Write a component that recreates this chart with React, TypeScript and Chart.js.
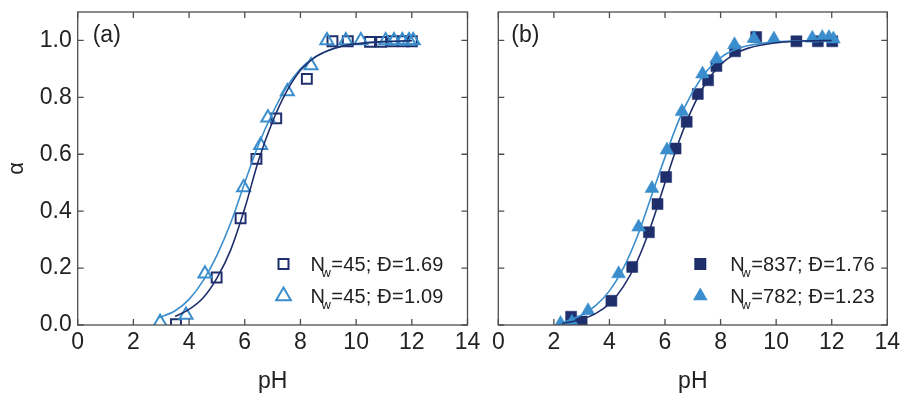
import React, { useEffect, useRef } from 'react';
import { Chart, registerables } from 'chart.js';
Chart.register(...registerables);

const DARK = '#1f2f6c';
const LIGHT = '#3b8ecd';
const AXIS = '#4d4d4d';
const TEXT = '#222222';
const FONT = '"Liberation Sans", Arial, Helvetica, sans-serif';

// ---------- Panel (a) ----------
const aSquarePH = [3.53, 4.99, 5.85, 6.42, 7.13, 8.23, 9.15, 9.7, 10.5, 10.9, 11.3, 11.7, 12.0];
const aSquareAlpha = [0.003, 0.167, 0.375, 0.584, 0.726, 0.865, 0.997, 0.997, 0.995, 0.995, 0.997, 0.997, 0.997];
const aTriPH = [2.96, 3.89, 4.57, 5.96, 6.57, 6.83, 7.53, 8.38, 8.95, 9.63, 10.17, 11.06, 11.36, 11.66, 11.9, 12.05];
const aTriAlpha = [0.01, 0.035, 0.18, 0.483, 0.632, 0.728, 0.821, 0.912, 1.0, 1.0, 1.0, 1.0, 1.0, 1.0, 1.0, 1.0];
const aFitDarkPH = [3.5, 4.0, 4.5, 5.0, 5.5, 6.0, 6.5, 7.0, 7.5, 8.0, 8.5, 9.0, 9.5, 10, 11, 12];
const aFitDarkAlpha = [0.03, 0.055, 0.095, 0.165, 0.265, 0.41, 0.58, 0.715, 0.82, 0.895, 0.94, 0.965, 0.98, 0.988, 0.996, 0.999];
const aFitLightPH = [2.9, 3.5, 4.0, 4.5, 5.0, 5.5, 6.0, 6.5, 7.0, 7.5, 8.0, 8.5, 9.0, 9.5, 10, 11, 12];
const aFitLightAlpha = [0.025, 0.05, 0.09, 0.155, 0.245, 0.36, 0.5, 0.635, 0.745, 0.835, 0.9, 0.94, 0.965, 0.98, 0.988, 0.996, 0.999];
const aLegendN = ['45', '45'];
const aLegendD = ['1.69', '1.09'];

// ---------- Panel (b) ----------
const bSquarePH = [2.62, 3.0, 4.07, 4.82, 5.42, 5.73, 6.04, 6.38, 6.78, 7.18, 7.55, 7.85, 8.52, 9.28, 10.73, 11.5, 12.02];
const bSquareAlpha = [0.029, 0.012, 0.085, 0.204, 0.326, 0.425, 0.52, 0.62, 0.714, 0.812, 0.86, 0.91, 0.962, 1.012, 0.997, 0.997, 0.997];
const bTriPH = [2.24, 2.65, 3.23, 4.33, 5.05, 5.53, 6.07, 6.61, 7.35, 7.86, 8.5, 9.2, 9.92, 11.3, 11.66, 11.9, 12.06];
const bTriAlpha = [0.005, 0.01, 0.05, 0.18, 0.344, 0.48, 0.615, 0.75, 0.882, 0.935, 0.985, 1.007, 1.005, 1.008, 1.01, 1.01, 1.005];
const bFitDarkPH = [2.3, 3.0, 3.5, 4.0, 4.5, 5.0, 5.5, 6.0, 6.5, 7.0, 7.5, 8.0, 8.5, 9.0, 10, 11, 12];
const bFitDarkAlpha = [0.005, 0.02, 0.04, 0.075, 0.135, 0.225, 0.35, 0.5, 0.645, 0.765, 0.855, 0.915, 0.952, 0.973, 0.992, 0.998, 1.0];
const bFitLightPH = [2.2, 2.5, 3.0, 3.5, 4.0, 4.5, 5.0, 5.5, 6.0, 6.5, 7.0, 7.5, 8.0, 8.5, 9.0, 10, 11, 12];
const bFitLightAlpha = [0.005, 0.015, 0.035, 0.068, 0.12, 0.2, 0.31, 0.45, 0.59, 0.72, 0.82, 0.893, 0.94, 0.967, 0.982, 0.995, 0.999, 1.0];
const bLegendN = ['837', '782'];
const bLegendD = ['1.76', '1.23'];

const xTickMin = 0;
const xTickMax = 14;
const xTickStep = 2;
const yTickMin = 0;
const yTickMax = 1.0;
const yTickStep = 0.2;

function pts(xs: number[], ys: number[]) {
  return xs.map((x, i) => ({ x, y: ys[i] }));
}

const frameTicksPlugin = {
  id: 'frameTicks',
  afterDatasetsDraw(chart: any) {
    const { ctx, chartArea: a, scales } = chart;
    const xs = scales.x;
    const ys = scales.y;
    const L = 6;
    ctx.save();
    ctx.strokeStyle = AXIS;
    ctx.lineWidth = 1.3;
    ctx.beginPath();
    xs.ticks.forEach((t: any) => {
      const px = xs.getPixelForValue(t.value);
      ctx.moveTo(px, a.bottom);
      ctx.lineTo(px, a.bottom - L);
      ctx.moveTo(px, a.top);
      ctx.lineTo(px, a.top + L);
    });
    ys.ticks.forEach((t: any) => {
      const py = ys.getPixelForValue(t.value);
      ctx.moveTo(a.left, py);
      ctx.lineTo(a.left + L, py);
      ctx.moveTo(a.right, py);
      ctx.lineTo(a.right - L, py);
    });
    ctx.stroke();
    ctx.strokeRect(a.left, a.top, a.right - a.left, a.bottom - a.top);
    ctx.restore();
  },
};

function drawMarker(ctx: any, style: string, filled: boolean, color: string, x: number, y: number) {
  ctx.save();
  ctx.strokeStyle = color;
  ctx.fillStyle = color;
  ctx.lineWidth = 2;
  ctx.beginPath();
  if (style === 'rect') {
    const s = filled ? 12 : 10;
    ctx.rect(x - s / 2, y - s / 2, s, s);
  } else {
    const r = 8.5;
    ctx.moveTo(x, y - r);
    ctx.lineTo(x + r * 0.866, y + r * 0.5);
    ctx.lineTo(x - r * 0.866, y + r * 0.5);
    ctx.closePath();
  }
  if (filled) ctx.fill();
  else ctx.stroke();
  ctx.restore();
}

const decorPlugin = {
  id: 'panelDecor',
  afterDraw(chart: any, _args: any, opts: any) {
    const { ctx, chartArea: a } = chart;
    ctx.save();
    ctx.fillStyle = TEXT;
    ctx.textBaseline = 'middle';
    ctx.textAlign = 'left';
    ctx.font = `23px ${FONT}`;
    ctx.fillText(opts.letter, a.left + opts.letterDx, a.top + 24);

    const mx = a.right + opts.markerDx;
    opts.items.forEach((it: any, i: number) => {
      const cy = a.bottom + opts.rowDy[i];
      drawMarker(ctx, it.style, it.filled, it.color, mx, cy);
      ctx.fillStyle = TEXT;
      ctx.textBaseline = 'alphabetic';
      ctx.font = `20px ${FONT}`;
      const base = cy + 7;
      const tx = mx + opts.textDx;
      ctx.fillText('N', tx, base);
      const wN = ctx.measureText('N').width;
      ctx.font = `13px ${FONT}`;
      const sx = tx + wN - 3.5;
      ctx.fillText('w', sx, base + 6);
      const wW = ctx.measureText('w').width;
      ctx.font = `20px ${FONT}`;
      try { (ctx as any).letterSpacing = '0.2px'; } catch (e) {}
      ctx.fillText(`=${it.n}; Đ=${it.d}`, sx + wW + 0.5, base);
      try { (ctx as any).letterSpacing = '0px'; } catch (e) {}
    });
    ctx.restore();
  },
};

function makeConfig(p: any) {
  const tickFont = { family: FONT, size: 23 };
  return {
    type: 'scatter',
    data: {
      datasets: [
        {
          data: pts(p.fitDarkPH, p.fitDarkAlpha), showLine: true, borderColor: DARK, borderWidth: 1.6,
          pointRadius: 0, fill: false, cubicInterpolationMode: 'monotone', order: 0,
        },
        {
          data: pts(p.fitLightPH, p.fitLightAlpha), showLine: true, borderColor: LIGHT, borderWidth: 1.6,
          pointRadius: 0, fill: false, cubicInterpolationMode: 'monotone', order: 0,
        },
        {
          data: pts(p.sqPH, p.sqAlpha), pointStyle: 'rect', pointRadius: p.filled ? 7.8 : 7,
          pointBorderColor: DARK, pointBackgroundColor: p.filled ? DARK : 'rgba(0,0,0,0)',
          pointBorderWidth: p.filled ? 0.5 : 2, order: 2,
        },
        {
          data: pts(p.triPH, p.triAlpha), pointStyle: 'triangle', pointRadius: p.filled ? 8 : 7.5,
          pointBorderColor: LIGHT, pointBackgroundColor: p.filled ? LIGHT : 'rgba(0,0,0,0)',
          pointBorderWidth: p.filled ? 0.5 : 2, order: 1,
        },
      ],
    },
    options: {
      animation: false,
      responsive: false,
      devicePixelRatio: 1,
      layout: { padding: { left: 0, right: p.padRight, top: 12, bottom: 0 } },
      plugins: {
        legend: { display: false },
        tooltip: { enabled: false },
        panelDecor: {
          letter: p.letter,
          letterDx: p.letterDx,
          markerDx: p.markerDx,
          textDx: p.textDx,
          rowDy: [-61, -29],
          items: [
            { style: 'rect', filled: p.filled, color: DARK, n: p.legendN[0], d: p.legendD[0] },
            { style: 'triangle', filled: p.filled, color: LIGHT, n: p.legendN[1], d: p.legendD[1] },
          ],
        },
      },
      scales: {
        x: {
          type: 'linear',
          min: xTickMin,
          max: xTickMax,
          grid: { display: false, drawTicks: false },
          border: { display: false },
          ticks: { stepSize: xTickStep, font: tickFont, color: TEXT, padding: 4, maxRotation: 0, autoSkip: false },
          title: { display: true, text: 'pH', font: { family: FONT, size: 23 }, color: TEXT, padding: { top: 0, bottom: 1 } },
          afterFit: (s: any) => { s.height = 71; s.paddingLeft = 0; s.paddingRight = 0; },
        },
        y: {
          type: 'linear',
          min: yTickMin,
          max: 1.1,
          grid: { display: false, drawTicks: false },
          border: { display: false },
          afterBuildTicks: (s: any) => { s.ticks = s.ticks.filter((t: any) => t.value <= yTickMax + 1e-6); },
          ticks: {
            display: p.showY,
            stepSize: yTickStep,
            font: tickFont,
            color: TEXT,
            padding: 6,
            callback: (v: any) => Number(v).toFixed(1),
          },
          title: { display: p.showY, text: 'α', font: { family: FONT, size: 22 }, color: TEXT, padding: { top: 4, bottom: 0 } },
          afterFit: (s: any) => { s.width = p.yWidth; s.paddingTop = 0; s.paddingBottom = 0; },
        },
      },
    },
    plugins: [frameTicksPlugin, decorPlugin],
  };
}

function Panel(props: any) {
  const ref = useRef<HTMLCanvasElement | null>(null);
  useEffect(() => {
    if (!ref.current) return;
    const chart = new Chart(ref.current, makeConfig(props.cfg) as any);
    return () => chart.destroy();
  }, []);
  return (
    <canvas
      ref={ref}
      width={props.width}
      height={396}
      style={{ position: 'absolute', left: props.left, top: 0, width: props.width, height: 396, display: 'block' }}
    />
  );
}

const panelA = {
  sqPH: aSquarePH, sqAlpha: aSquareAlpha, triPH: aTriPH, triAlpha: aTriAlpha,
  fitDarkPH: aFitDarkPH, fitDarkAlpha: aFitDarkAlpha, fitLightPH: aFitLightPH, fitLightAlpha: aFitLightAlpha,
  legendN: aLegendN, legendD: aLegendD, filled: false, letter: '(a)', letterDx: 15,
  markerDx: -184, textDx: 27, showY: true, yWidth: 77.7, padRight: 12.5,
};

const panelB = {
  sqPH: bSquarePH, sqAlpha: bSquareAlpha, triPH: bTriPH, triAlpha: bTriAlpha,
  fitDarkPH: bFitDarkPH, fitDarkAlpha: bFitDarkAlpha, fitLightPH: bFitLightPH, fitLightAlpha: bFitLightAlpha,
  legendN: bLegendN, legendD: bLegendD, filled: true, letter: '(b)', letterDx: 13,
  markerDx: -187, textDx: 30, showY: false, yWidth: 18.3, padRight: 13.7,
};

export default function App() {
  return (
    <div style={{ position: 'absolute', left: 0, top: 0, width: 901, height: 396, background: '#fff' }}>
      <Panel cfg={panelA} left={0} width={480} />
      <Panel cfg={panelB} left={480} width={421} />
    </div>
  );
}
